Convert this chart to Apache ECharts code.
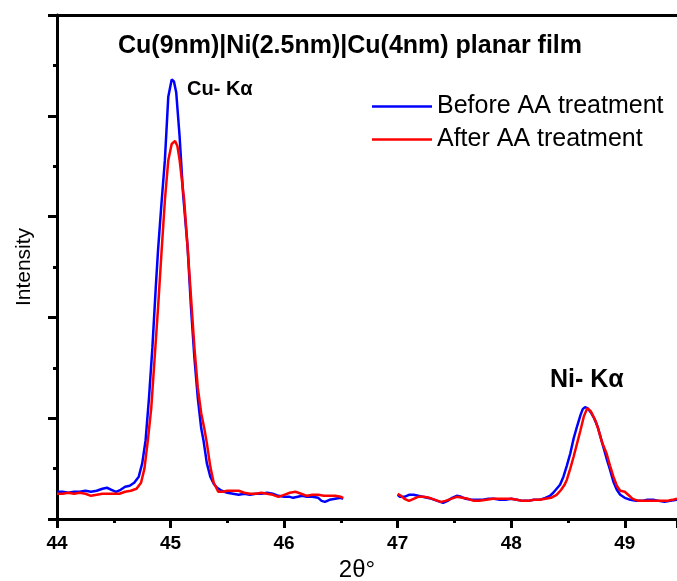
<!DOCTYPE html>
<html>
<head>
<meta charset="utf-8">
<script src="https://cdn.jsdelivr.net/npm/echarts@6/dist/echarts.min.js"></script>
<style>
html, body { margin: 0; padding: 0; background: #fff; }
#main { width: 677px; height: 581px; }
</style>
</head>
<body>
<div id="main"></div>
<script>
var titleText = "Cu(9nm)|Ni(2.5nm)|Cu(4nm) planar film";
var seriesNames = ["Before AA treatment", "After AA treatment"];
var xTicks = [44, 45, 46, 47, 48, 49];

// before AA, 44 -> 46.5
var beforeLeft = [
	[44.00, .27], [44.05, .27], [44.10, .26], [44.15, .27], [44.20, .27], [44.25, .28], [44.30, .27],
	[44.35, .28], [44.40, .30], [44.44, .31], [44.48, .29], [44.52, .27], [44.56, .29], [44.60, .32],
	[44.64, .33], [44.68, .36], [44.72, .42], [44.75, .55], [44.78, .78], [44.81, 1.2], [44.84, 1.7],
	[44.87, 2.3], [44.89, 2.67], [44.92, 3.13], [44.95, 3.56], [44.98, 4.19], [45.01, 4.36], [45.03, 4.34],
	[45.05, 4.23], [45.08, 3.79], [45.11, 3.23], [45.15, 2.70], [45.18, 2.1], [45.21, 1.6], [45.24, 1.2],
	[45.27, 0.9], [45.29, 0.78], [45.32, 0.55], [45.35, 0.42], [45.38, 0.35], [45.41, 0.31], [45.45, 0.28],
	[45.50, 0.26], [45.55, 0.25], [45.60, 0.24], [45.65, 0.25], [45.70, 0.24], [45.75, 0.25], [45.80, 0.25],
	[45.85, 0.26], [45.90, 0.25], [45.95, 0.23], [46.00, 0.22], [46.05, 0.22], [46.08, 0.21], [46.12, 0.22],
	[46.16, 0.23], [46.20, 0.22], [46.25, 0.22], [46.30, 0.21], [46.33, 0.18], [46.36, 0.17], [46.40, 0.19],
	[46.45, 0.20], [46.50, 0.21], [46.52, 0.20]
];
// before AA, 47 -> end
var beforeRight = [
	[47.00, .24], [47.02, .22], [47.06, .22], [47.10, .24], [47.14, .24], [47.18, .23], [47.22, .22],
	[47.26, .21], [47.30, .20], [47.35, .18], [47.40, .16], [47.44, .18], [47.48, .21], [47.52, .23],
	[47.56, .22], [47.60, .20], [47.65, .19], [47.70, .19], [47.75, .19], [47.80, .20], [47.85, .20],
	[47.90, .19], [47.95, .19], [48.00, .20], [48.05, .19], [48.10, .18], [48.15, .18], [48.20, .19],
	[48.25, .19], [48.30, .21], [48.34, .23], [48.37, .26], [48.40, .30], [48.43, .34], [48.46, .42],
	[48.49, .53], [48.52, .65], [48.55, .80], [48.58, .92], [48.61, 1.03], [48.63, 1.09], [48.65, 1.11],
	[48.67, 1.10], [48.70, 1.06], [48.73, 1.00], [48.76, 0.92], [48.79, 0.80], [48.81, 0.72], [48.84, 0.60],
	[48.87, 0.49], [48.90, 0.37], [48.93, 0.29], [48.96, 0.24], [49.00, 0.21], [49.05, 0.19], [49.10, 0.18],
	[49.15, 0.18], [49.20, 0.19], [49.25, 0.19], [49.30, 0.18], [49.35, 0.17], [49.40, 0.18], [49.46, 0.19]
];
// after AA, 44 -> 46.5
var afterLeft = [
	[44.00, .25], [44.05, .25], [44.10, .26], [44.15, .25], [44.20, .26], [44.25, .25], [44.30, .23],
	[44.35, .24], [44.40, .25], [44.45, .25], [44.50, .25], [44.55, .25], [44.60, .27], [44.65, .28],
	[44.70, .30], [44.74, .36], [44.77, .50], [44.80, .78], [44.83, 1.1], [44.86, 1.6], [44.89, 2.1],
	[44.92, 2.64], [44.95, 3.16], [44.98, 3.56], [45.01, 3.72], [45.04, 3.75], [45.06, 3.70], [45.08, 3.56],
	[45.12, 3.16], [45.15, 2.70], [45.18, 2.2], [45.21, 1.7], [45.24, 1.3], [45.27, 1.05], [45.30, 0.88],
	[45.32, 0.75], [45.35, 0.52], [45.38, 0.36], [45.42, 0.27], [45.46, 0.27], [45.50, 0.28], [45.55, 0.28],
	[45.60, 0.28], [45.65, 0.26], [45.70, 0.25], [45.75, 0.25], [45.80, 0.26], [45.85, 0.25], [45.90, 0.24],
	[45.95, 0.22], [46.00, 0.24], [46.05, 0.26], [46.10, 0.27], [46.15, 0.25], [46.20, 0.23], [46.25, 0.24],
	[46.30, 0.24], [46.35, 0.23], [46.40, 0.23], [46.45, 0.23], [46.50, 0.22], [46.52, 0.21]
];
// after AA, 47 -> end
var afterRight = [
	[47.00, .25], [47.03, .23], [47.06, .20], [47.10, .18], [47.14, .20], [47.18, .22], [47.23, .22],
	[47.28, .21], [47.33, .19], [47.38, .17], [47.42, .18], [47.47, .20], [47.52, .22], [47.57, .21],
	[47.62, .20], [47.67, .18], [47.72, .18], [47.78, .19], [47.84, .20], [47.90, .20], [47.95, .20],
	[48.00, .20], [48.05, .19], [48.10, .18], [48.15, .18], [48.20, .19], [48.25, .19], [48.30, .20],
	[48.35, .21], [48.40, .24], [48.44, .29], [48.47, .34], [48.49, .39], [48.52, .50], [48.55, .62],
	[48.58, .75], [48.61, .88], [48.64, 1.02], [48.67, 1.10], [48.70, 1.07], [48.74, 0.98], [48.77, 0.88],
	[48.80, 0.76], [48.84, 0.65], [48.87, 0.53], [48.90, 0.42], [48.93, 0.33], [48.96, 0.28], [49.00, 0.27],
	[49.03, 0.24], [49.07, 0.20], [49.12, 0.18], [49.18, 0.18], [49.25, 0.18], [49.30, 0.18], [49.37, 0.18],
	[49.42, 0.19], [49.46, 0.20]
];

var font = "Arial, 'Liberation Sans', sans-serif";
var xMax = 49.46; // the plot runs a bit past the right edge

function lineSeries(name, data, color) {
	return {
		name : name,
		type : "line",
		data : data,
		showSymbol : false,
		symbol : "none",
		animation : false,
		lineStyle : { color : color, width : 2.5 },
		itemStyle : { color : color }
	};
}

var chart = echarts.init(document.getElementById("main"));
chart.setOption({
	backgroundColor : "#fff",
	animation : false,
	title : {
		text : titleText,
		left : 350,
		top : 34,
		padding : 0,
		textAlign : "center",
		textStyle : { fontFamily : font, fontSize : 25, fontWeight : "bold", color : "#000" }
	},
	legend : {
		data : seriesNames,
		orient : "vertical",
		left : 372,
		top : 94,
		padding : 0,
		icon : "rect",
		itemWidth : 60,
		itemHeight : 2.5,
		itemGap : 8,
		textStyle : { fontFamily : font, fontSize : 25, color : "#000" }
	},
	grid : { left : 57, top : 15, right : 0, height : 504, outerBoundsMode : "none", containLabel : false },
	xAxis : [{
		type : "value",
		min : 44,
		max : xMax,
		interval : 1,
		name : "2θ°",
		nameLocation : "middle",
		nameGap : 36,
		nameTextStyle : { fontFamily : font, fontSize : 24, color : "#000", padding : [0, 20, 0, 0] },
		axisLine : { lineStyle : { color : "#000", width : 3 } },
		axisTick : { length : 9, lineStyle : { width : 3, color : "#000" } },
		minorTick : { show : true, splitNumber : 2, length : 4, lineStyle : { width : 3, color : "#000" } },
		axisLabel : {
			margin : 15,
			fontFamily : font, fontSize : 19, fontWeight : "bold", color : "#000",
			showMaxLabel : false,
			formatter : function (v) { return xTicks.indexOf(v) >= 0 ? String(v) : ""; }
		},
		splitLine : { show : false }
	}, {
		type : "value",
		position : "top",
		min : 44,
		max : xMax,
		axisLine : { show : true, onZero : false, lineStyle : { color : "#000", width : 3 } },
		axisTick : { show : false },
		axisLabel : { show : false },
		splitLine : { show : false }
	}],
	yAxis : {
		type : "value",
		min : 0,
		max : 5,
		interval : 1,
		name : "Intensity",
		nameLocation : "middle",
		nameGap : 22,
		nameTextStyle : { fontFamily : font, fontSize : 21, color : "#000" },
		axisLine : { show : true, lineStyle : { color : "#000", width : 3 } },
		axisTick : { show : true, length : 9, lineStyle : { width : 3, color : "#000" } },
		minorTick : { show : true, splitNumber : 2, length : 4, lineStyle : { width : 3, color : "#000" } },
		axisLabel : { show : false },
		splitLine : { show : false }
	},
	series : [
		lineSeries(seriesNames[0], beforeLeft, "#0000ff"),
		lineSeries(seriesNames[0], beforeRight, "#0000ff"),
		lineSeries(seriesNames[1], afterLeft, "#ff0000"),
		lineSeries(seriesNames[1], afterRight, "#ff0000")
	],
	graphic : [{
		type : "text",
		left : 187,
		top : 79,
		style : { text : "Cu- Kα", font : "bold 20px Arial, 'Liberation Sans', sans-serif", fill : "#000" }
	}, {
		type : "text",
		left : 550,
		top : 368,
		style : { text : "Ni- Kα", font : "bold 25px Arial, 'Liberation Sans', sans-serif", fill : "#000" }
	}]
});
</script>
</body>
</html>
